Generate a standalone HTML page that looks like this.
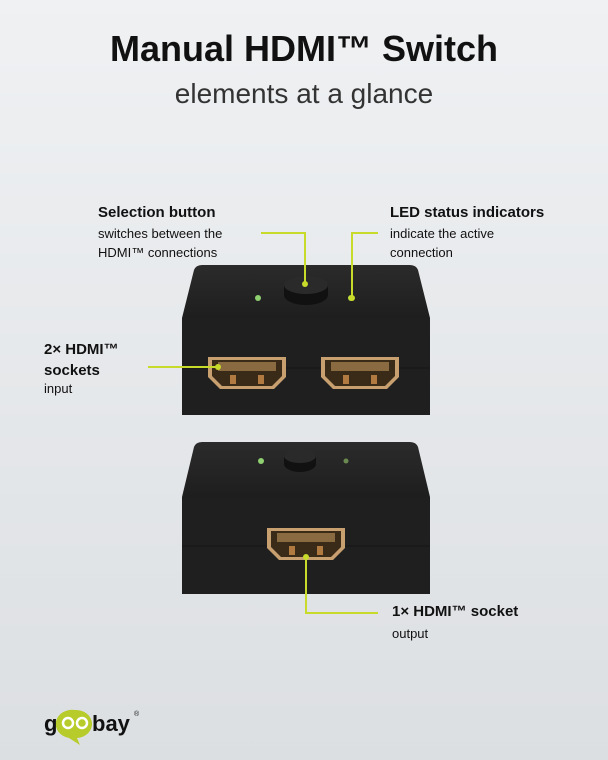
<!DOCTYPE html>
<html><head><style>
body{margin:0;width:608px;height:760px;overflow:hidden;background:linear-gradient(#eff1f3,#dcdfe2);font-family:"Liberation Sans",sans-serif;color:#111;position:relative}
.t{position:absolute;white-space:nowrap}
.h{font-weight:bold;font-size:15px}
.s{font-size:13px;line-height:19px}
</style></head><body>
<div class="t" style="left:0;width:608px;text-align:center;top:28px;font-size:36px;font-weight:bold">Manual HDMI™ Switch</div>
<div class="t" style="left:0;width:608px;text-align:center;top:78px;font-size:28px;color:#333">elements at a glance</div>
<div class="t h" style="left:98px;top:204px">Selection button</div>
<div class="t s" style="left:98px;top:224px">switches between the<br>HDMI™ connections</div>
<div class="t h" style="left:390px;top:204px">LED status indicators</div>
<div class="t s" style="left:390px;top:224px">indicate the active<br>connection</div>
<div class="t h" style="left:44px;top:339px;line-height:21px">2× HDMI™<br>sockets</div>
<div class="t s" style="left:44px;top:379px">input</div>
<div class="t h" style="left:392px;top:603px">1× HDMI™ socket</div>
<div class="t s" style="left:392px;top:624px">output</div>
<svg width="608" height="760" style="position:absolute;left:0;top:0">
<defs>
<linearGradient id="tp" x1="0" y1="0" x2="0" y2="1"><stop offset="0" stop-color="#2b2b2b"/><stop offset="1" stop-color="#1e1e1e"/></linearGradient>
<g id="port"><path d="M0 0H78V20L66 32H12L0 20Z" fill="#c8a070"/><path d="M4 3H74V19L64 29H14L4 19Z" fill="#3a2a18"/><rect x="10" y="5" width="58" height="9" fill="#8a6a40"/><rect x="22" y="18" width="6" height="9" fill="#b07a40"/><rect x="50" y="18" width="6" height="9" fill="#b07a40"/></g>
</defs>
<!-- top device -->
<path d="M212 265H410Q416 265 418 270L430 318H182L194 270Q196 265 202 265Z" fill="url(#tp)"/>
<rect x="182" y="318" width="248" height="97" fill="#1f1f1f"/>
<line x1="182" y1="368" x2="430" y2="368" stroke="#151515"/>
<path d="M284 285V295A22 10 0 0 0 328 295V285Z" fill="#111"/><ellipse cx="306" cy="285" rx="22" ry="9" fill="#2a2a2a"/>
<circle cx="258" cy="298" r="3" fill="#8fd070"/><circle cx="351" cy="298" r="3" fill="#b8e040"/>
<use href="#port" x="208" y="357"/><use href="#port" x="321" y="357"/>
<!-- bottom device -->
<path d="M212 442H410Q416 442 418 447L430 497H182L194 447Q196 442 202 442Z" fill="url(#tp)"/>
<rect x="182" y="497" width="248" height="97" fill="#1f1f1f"/>
<line x1="182" y1="546" x2="430" y2="546" stroke="#151515"/>
<path d="M284 456V464A16 8 0 0 0 316 464V456Z" fill="#111"/><ellipse cx="300" cy="456" rx="16" ry="7" fill="#2a2a2a"/>
<circle cx="261" cy="461" r="3" fill="#8fd070"/><circle cx="346" cy="461" r="2.5" fill="#6a8a50"/>
<use href="#port" x="267" y="528"/>
<!-- connectors -->
<g stroke="#c8da2a" stroke-width="2" fill="none">
<path d="M261 233H305V284"/><path d="M378 233H352V298"/><path d="M148 367H218"/><path d="M306 557V613H378"/>
</g>
<g fill="#c8da2a"><circle cx="305" cy="284" r="3"/><circle cx="352" cy="298" r="3"/><circle cx="218" cy="367" r="3"/><circle cx="306" cy="557" r="3"/></g>
<!-- logo -->
<path d="M75 710a16 14 0 1 1 2 28l3 7-11-7a16 14 0 0 1 6-28z" fill="#b7cc2a"/>
<text x="44" y="731" font-family="Liberation Sans" font-weight="bold" font-size="22" fill="#111">g</text>
<circle cx="68" cy="723" r="5" fill="none" stroke="#fff" stroke-width="2.5"/><circle cx="82" cy="723" r="5" fill="none" stroke="#fff" stroke-width="2.5"/>
<text x="92" y="731" font-family="Liberation Sans" font-weight="bold" font-size="22" fill="#111">bay</text>
<text x="134" y="716" font-family="Liberation Sans" font-size="7" fill="#111">®</text>
</svg>
</body></html>
